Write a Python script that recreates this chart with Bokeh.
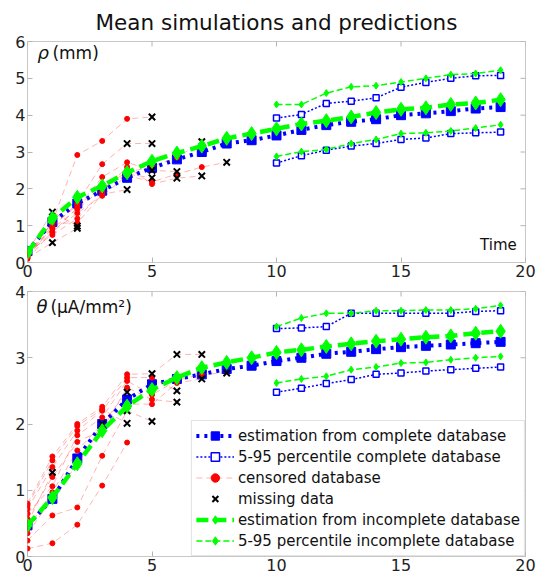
import math
from bokeh.plotting import figure
from bokeh.models import Label, FixedTicker, Legend, LegendItem, Range1d
from bokeh.layouts import column
from bokeh.embed import file_html
from bokeh.resources import INLINE

FONT = "DejaVu Sans"

times = list(range(20))
pct_times = list(range(10, 20))
x_ticks = [0, 5, 10, 15, 20]
rho_ticks = [0, 1, 2, 3, 4, 5, 6]
theta_ticks = [0, 1, 2, 3, 4]

# ---- rho panel (mm) ----
rho_est_complete = [0.31, 1.10, 1.60, 1.95, 2.30, 2.57, 2.80, 3.00, 3.23, 3.32,
                    3.45, 3.60, 3.73, 3.82, 3.89, 4.00, 4.05, 4.11, 4.18, 4.22]
rho_est_incomplete = [0.27, 1.20, 1.77, 2.08, 2.44, 2.75, 2.97, 3.16, 3.37, 3.50,
                      3.63, 3.76, 3.85, 3.95, 4.07, 4.16, 4.20, 4.29, 4.33, 4.42]
rho_p95_complete = [3.92, 4.02, 4.32, 4.38, 4.47, 4.76, 4.89, 5.00, 5.07, 5.08]
rho_p05_complete = [2.70, 2.90, 3.05, 3.16, 3.23, 3.34, 3.38, 3.50, 3.52, 3.54]
rho_p95_incomplete = [4.29, 4.29, 4.60, 4.77, 4.80, 4.90, 5.00, 5.10, 5.13, 5.22]
rho_p05_incomplete = [2.88, 3.01, 3.07, 3.23, 3.34, 3.50, 3.52, 3.57, 3.65, 3.74]
# censored subjects: observed values from t=0, then the missing (hidden) values
rho_censored = [
    [0.20, 1.10, 2.92, 3.30, 3.90],
    [0.15, 0.95, 1.61, 2.67],
    [0.25, 0.81, 1.49, 2.32, 2.72],
    [0.10, 0.84, 1.34, 1.81, 2.36, 2.19, 2.40, 2.59],
    [0.28, 0.75, 1.19, 1.92, 2.59, 2.13],
    [0.22, 1.07, 1.07, 1.85],
    [0.12],
    [0.30],
    [0.18, 1.00, 1.55, 2.05, 2.45, 2.60, 2.85],
    [0.24, 0.92, 1.45, 2.00, 2.40],
]
rho_missing = [
    [3.95],
    [3.23, 3.23],
    [2.50, 2.47],
    [2.72],
    [2.29, 2.35],
    [1.98],
    [0.54, 0.93],
    [1.37, 0.99],
    [3.28],
    [2.30],
]

# ---- theta panel (uA/mm2) ----
theta_est_complete = [0.47, 0.87, 1.48, 2.00, 2.37, 2.60, 2.68, 2.75, 2.83, 2.88,
                      2.95, 3.00, 3.06, 3.09, 3.13, 3.16, 3.18, 3.20, 3.22, 3.24]
theta_est_incomplete = [0.47, 0.89, 1.40, 1.90, 2.27, 2.52, 2.70, 2.85, 2.93, 3.00,
                        3.08, 3.12, 3.17, 3.21, 3.25, 3.28, 3.31, 3.33, 3.37, 3.40]
theta_p95_complete = [3.44, 3.45, 3.47, 3.67, 3.67, 3.67, 3.67, 3.67, 3.70, 3.71]
theta_p05_complete = [2.48, 2.54, 2.61, 2.67, 2.75, 2.77, 2.80, 2.82, 2.84, 2.86]
theta_p95_incomplete = [3.47, 3.60, 3.67, 3.67, 3.71, 3.71, 3.72, 3.72, 3.74, 3.79]
theta_p05_incomplete = [2.62, 2.68, 2.72, 2.82, 2.86, 2.92, 2.93, 2.97, 3.00, 3.02]
theta_censored = [
    [0.80, 1.51, 2.00, 2.26, 2.75],
    [0.72, 1.35, 1.90, 2.20, 2.70, 2.70],
    [0.65, 1.06, 1.83, 2.10, 2.65, 2.44, 2.66, 2.75],
    [0.57, 1.20, 1.73, 1.91, 2.55, 2.37],
    [0.42, 0.97, 1.60],
    [0.35, 0.87, 1.40, 1.95, 2.30, 2.30, 2.62],
    [0.24, 0.62, 0.74, 1.52],
    [0.12, 0.20, 0.48, 1.07, 1.72],
    [0.50],
    [0.77, 1.45, 1.97, 2.22],
]
theta_missing = [
    [2.76, 3.05, 3.05],
    [2.50],
    [2.77],
    [2.33],
    [2.00, 2.48],
    [2.68],
    [2.20, 2.04],
    [],
    [1.27],
    [2.01],
]

legend_labels = [
    "estimation from complete database",
    "5-95 percentile complete database",
    "censored database",
    "missing data",
    "estimation from incomplete database",
    "5-95 percentile incomplete database",
]

BLUE = "#0000ff"
GREEN = "#00ff00"
RED = "#ff0000"
FRAME = "#c8c8c8"
TICK = "#b4b4b4"


def make_fig(height, yticks, ymax, border_top, border_bottom):
    p = figure(width=540, height=height, x_range=Range1d(0, 20), y_range=Range1d(0, ymax),
               output_backend="svg", toolbar_location=None,
               min_border_left=27, min_border_right=15,
               min_border_top=border_top, min_border_bottom=border_bottom)
    p.xgrid.grid_line_color = None
    p.ygrid.grid_line_color = None
    p.outline_line_color = FRAME
    p.outline_line_width = 1
    p.background_fill_color = "white"
    for ax in p.xaxis:
        ax.ticker = FixedTicker(ticks=x_ticks)
    for ax in p.yaxis:
        ax.ticker = FixedTicker(ticks=yticks)
    for ax in list(p.xaxis) + list(p.yaxis):
        ax.axis_line_color = None
        ax.major_tick_in = 5
        ax.major_tick_out = 0
        ax.minor_tick_line_color = None
        ax.major_tick_line_color = TICK
        ax.major_label_text_font = FONT
        ax.major_label_text_font_size = "16px"
        ax.major_label_text_color = "#222222"
        ax.major_label_standoff = 2
    # mirrored ticks on the right and top edges (half of each dash is clipped away)
    p.scatter([20] * len(yticks), yticks, marker="dash", size=10, line_color=TICK,
              line_width=1)
    p.scatter(x_ticks, [ymax] * len(x_ticks), marker="dash", angle=math.pi / 2, size=10,
              line_color=TICK, line_width=1)
    return p


def draw_panel(p, est_c, est_i, p95_c, p05_c, p95_i, p05_i, censored, missing):
    r = {}
    # complete database estimation
    l1 = p.line(times, est_c, line_color=BLUE, line_width=4, line_dash="3 5")
    m1 = p.scatter(times, est_c, marker="square", size=9, fill_color=BLUE, line_color=BLUE)
    r[0] = [l1, m1]
    # 5-95 complete
    for arr in (p95_c, p05_c):
        l2 = p.line(pct_times, arr, line_color=BLUE, line_width=1.5, line_dash="2 2")
        m2 = p.scatter(pct_times, arr, marker="square", size=6, fill_color="white",
                       line_color=BLUE, line_width=1.5)
    r[1] = [l2, m2]
    # censored subjects
    for obs, mis in zip(censored, missing):
        tt = list(range(len(obs) + len(mis)))
        lc = p.line(tt, obs + mis, line_color=RED, line_alpha=0.3, line_width=1,
                    line_dash="6 4")
        mc = p.scatter(list(range(len(obs))), obs, marker="circle", size=5,
                       fill_color=RED, line_color=RED)
        r[2] = [lc, mc]
    for obs, mis in zip(censored, missing):
        if mis:
            mx = p.scatter(list(range(len(obs), len(obs) + len(mis))), mis, marker="x",
                           size=9, line_color="black", line_width=2)
            r[3] = [mx]
    # incomplete database estimation
    l5 = p.line(times, est_i, line_color=GREEN, line_width=4.5, line_dash="12 6")
    m5 = p.scatter(times, est_i, marker="diamond", size=14, fill_color=GREEN,
                   line_color=GREEN)
    r[4] = [l5, m5]
    for arr in (p95_i, p05_i):
        l6 = p.line(pct_times, arr, line_color=GREEN, line_width=1.5, line_dash="6 3")
        m6 = p.scatter(pct_times, arr, marker="diamond", size=7, fill_color=GREEN,
                       line_color=GREEN)
    r[5] = [l6, m6]
    return r


# ---------------- top panel ----------------
p1 = make_fig(284, rho_ticks, 6, 37, 22)
p1.title.text = "Mean simulations and predictions"
p1.title.align = "center"
p1.title.text_font = FONT
p1.title.text_font_size = "21.5px"
p1.title.text_font_style = "normal"
p1.title.text_color = "#111111"
p1.title.text_line_height = 0.8
p1.title.standoff = 14
draw_panel(p1, rho_est_complete, rho_est_incomplete, rho_p95_complete, rho_p05_complete,
           rho_p95_incomplete, rho_p05_incomplete, rho_censored, rho_missing)
p1.add_layout(Label(x=0.4, y=5.41, text="ρ", text_font=FONT, text_font_size="18px",
                    text_font_style="italic", text_color="#111111"))
p1.add_layout(Label(x=1.0, y=5.41, text="(mm)", text_font=FONT, text_font_size="17px",
                    text_color="#111111"))
p1.add_layout(Label(x=19.65, y=0.24, text="Time", text_font=FONT, text_font_size="15px",
                    text_align="right", text_color="#111111"))

# ---------------- bottom panel ----------------
p2 = make_fig(294, theta_ticks, 4, 7, 22)
rr = draw_panel(p2, theta_est_complete, theta_est_incomplete, theta_p95_complete,
                theta_p05_complete, theta_p95_incomplete, theta_p05_incomplete,
                theta_censored, theta_missing)
p2.add_layout(Label(x=0.36, y=3.61, text="θ", text_font=FONT, text_font_size="18px",
                    text_font_style="italic", text_color="#111111"))
p2.add_layout(Label(x=0.92, y=3.61, text="(μA/mm²)", text_font=FONT, text_font_size="17px",
                    text_color="#111111"))

items = [LegendItem(label=legend_labels[i], renderers=rr[i]) for i in range(6)]
legend = Legend(items=items, location="bottom_right", margin=0, padding=4, spacing=0,
                label_height=21, glyph_height=21, glyph_width=38, label_standoff=4,
                label_text_font=FONT, label_text_font_size="15px",
                label_text_color="#111111",
                border_line_color=FRAME, background_fill_color="white",
                background_fill_alpha=1.0)
p2.add_layout(legend)

layout = column(p1, p2, spacing=0)
open("out.html", "w").write(file_html(layout, INLINE))
